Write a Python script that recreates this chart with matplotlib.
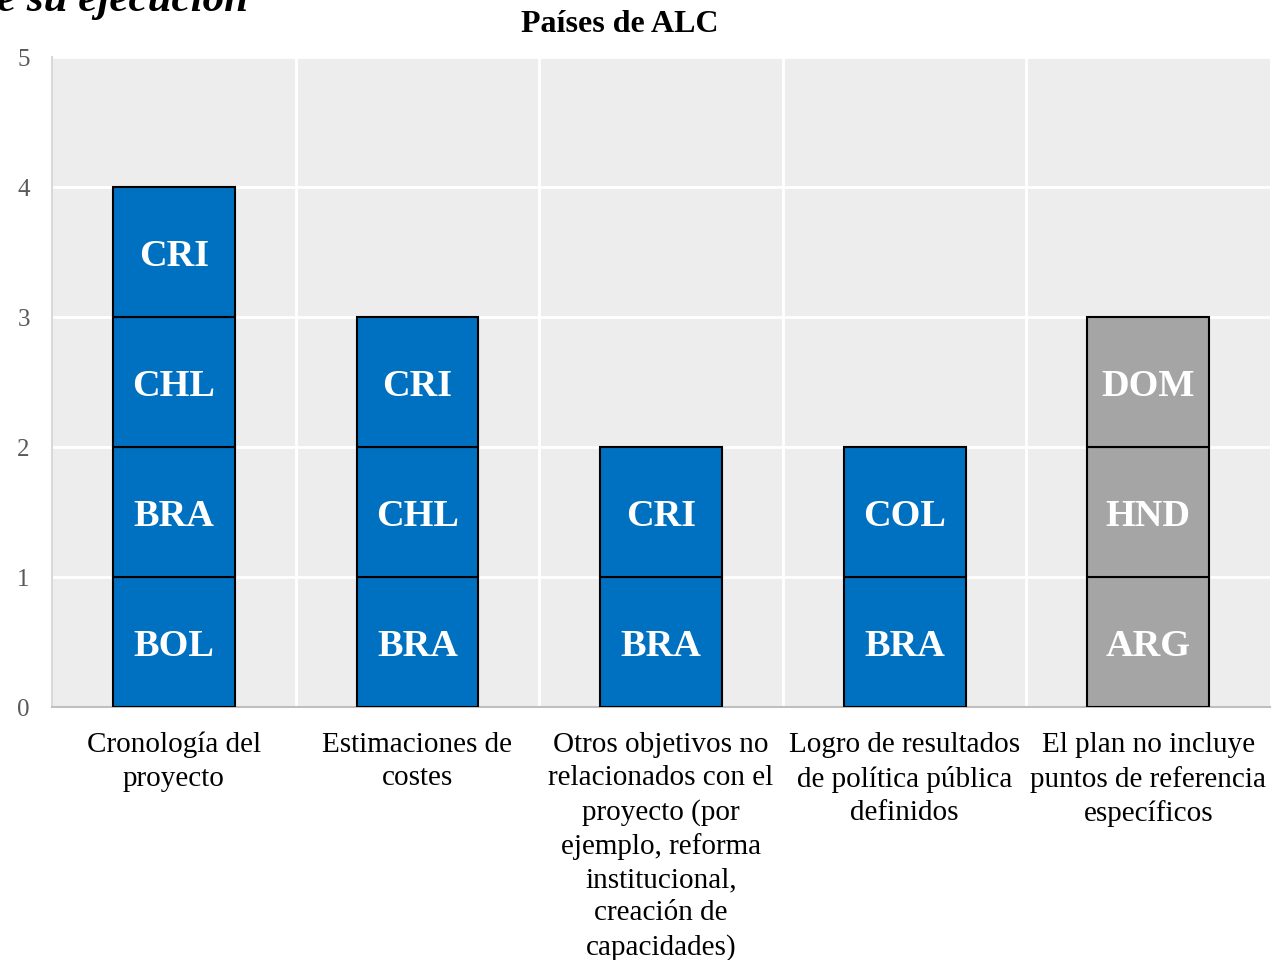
import matplotlib.pyplot as plt

plt.rcParams["font.family"] = ["Liberation Serif", "DejaVu Serif"]

# datos
categorias = [
    "Cronología del\nproyecto",
    "Estimaciones de\ncostes",
    "Otros objetivos no\nrelacionados con el\nproyecto (por\nejemplo, reforma\ninstitucional,\ncreación de\ncapacidades)",
    "Logro de resultados\nde política pública\ndefinidos",
    "El plan no incluye\npuntos de referencia\nespecíficos",
]
paises = [
    ["BOL", "BRA", "CHL", "CRI"],
    ["BRA", "CHL", "CRI"],
    ["BRA", "CRI"],
    ["BRA", "COL"],
    ["ARG", "HND", "DOM"],
]
colores = ["#0070C0", "#0070C0", "#0070C0", "#0070C0", "#A5A5A5"]

fig = plt.figure(figsize=(12.72, 9.6), dpi=100)
ax = fig.add_axes([52 / 1272, 1 - 707 / 960, 1218 / 1272, 650 / 960])
ax.set_facecolor("#EDEDED")

for i, lista in enumerate(paises):
    for nivel, pais in enumerate(lista):
        ax.bar(i, 1, bottom=nivel, width=0.5, color=colores[i],
               edgecolor="black", linewidth=1.5, zorder=3)
        ax.text(i, nivel + 0.5, pais, ha="center", va="center_baseline",
                color="white", fontsize=27.5, fontweight="bold", zorder=4)

ax.set_xlim(-0.5, len(categorias) - 0.5)
ax.set_ylim(0, 5)
ax.set_yticks(range(6))
ax.set_xticks(range(len(categorias)))
ax.set_xticklabels(categorias, fontsize=21, linespacing=1.36, va="top")
ax.set_xticks([x + 0.5 for x in range(len(categorias) - 1)], minor=True)
ax.tick_params(axis="y", length=0, pad=16, labelsize=18, labelcolor="#595959")
ax.tick_params(axis="x", which="both", length=0, pad=18)
ax.grid(axis="y", color="white", linewidth=2, zorder=1)
ax.grid(axis="x", which="minor", color="white", linewidth=2, zorder=1)
ax.set_axisbelow(True)

for s in ["top", "right"]:
    ax.spines[s].set_visible(False)
ax.spines["left"].set_color("#D9D9D9")
ax.spines["left"].set_linewidth(1.5)
ax.spines["bottom"].set_color("#BFBFBF")
ax.spines["bottom"].set_linewidth(1.5)

fig.text(620 / 1272, 1 - 24 / 960, "Países de ALC", ha="center", va="center",
         fontsize=23, fontweight="bold")
fig.text(-3 / 1272, 1 - 11 / 960, "e su ejecución", ha="left", va="baseline",
         fontsize=31, fontweight="bold", fontstyle="italic")

fig.savefig("out.png", dpi=100)
